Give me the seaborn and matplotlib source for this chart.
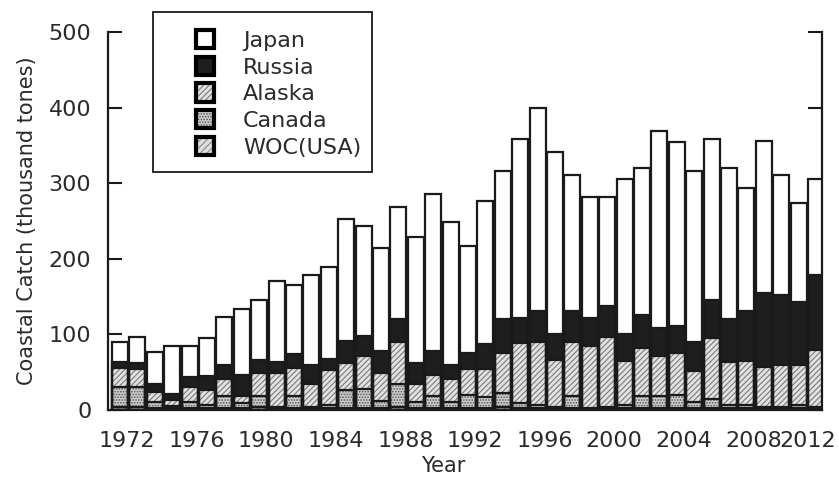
import numpy as np
import pandas as pd
import matplotlib
matplotlib.use("Agg")
import matplotlib.pyplot as plt
import seaborn as sns
from matplotlib.patches import Rectangle
from matplotlib.legend_handler import HandlerBase
from matplotlib.transforms import ScaledTranslation

# ---------------- data (thousand tonnes) ----------------
years = list(range(1972, 2013))
woc = [4, 4, 2, 2, 2, 2, 3, 2, 4, 2, 3, 2, 2, 3, 3, 3, 4, 3, 3, 3, 3,
       3, 4, 3, 3, 2, 3, 1, 2, 2, 3, 3, 3, 3, 3, 2, 2, 2, 2, 2, 2]
canada = [27, 27, 9, 3, 9, 5, 15, 7, 14, 2, 15, 2, 5, 23, 25, 9, 30, 8, 16, 8, 17,
          14, 19, 6, 4, 2, 15, 1, 2, 5, 15, 15, 17, 8, 12, 5, 5, 2, 2, 5, 2]
alaska = [25, 23, 13, 8, 19, 20, 23, 9, 31, 45, 38, 30, 46, 36, 44, 37, 56, 24, 27, 30, 34,
          37, 53, 79, 83, 62, 72, 82, 93, 58, 64, 53, 56, 41, 80, 56, 58, 53, 56, 53, 75]
russia = [7, 8, 10, 8, 13, 18, 19, 28, 17, 15, 18, 26, 15, 29, 26, 29, 31, 27, 32, 19, 22,
          33, 45, 34, 41, 35, 41, 38, 41, 36, 44, 37, 35, 38, 51, 58, 66, 98, 92, 83, 100]
japan = [27, 35, 43, 63, 41, 50, 63, 88, 80, 107, 91, 119, 121, 161, 145, 136, 148, 167, 208, 189, 141,
         190, 195, 236, 268, 240, 180, 160, 144, 204, 194, 261, 243, 226, 212, 199, 162, 201, 159, 131, 127]
label_years = [1972, 1976, 1980, 1984, 1988, 1992, 1996, 2000, 2004, 2008, 2012]
series_names = ["Japan", "Russia", "Alaska", "Canada", "WOC(USA)"]

df = pd.DataFrame({"Year": years, "WOC(USA)": woc, "Canada": canada,
                   "Alaska": alaska, "Russia": russia, "Japan": japan})
stack_order = ["WOC(USA)", "Canada", "Alaska", "Russia", "Japan"]
cum = df[stack_order].cumsum(axis=1)
cum["Year"] = df["Year"]

# ---------------- style ----------------
sns.set_theme(style="white")
plt.rcParams["font.family"] = ["DejaVu Sans"]
plt.rcParams["hatch.linewidth"] = 0.8
txt = "#2a2a2a"
edge = "#1a1a1a"

styles = {
    "Japan":    dict(facecolor="white", hatch=None, hcol="white"),
    "Russia":   dict(facecolor="#1e1e1e", hatch=None, hcol="#1e1e1e"),
    "Alaska":   dict(facecolor="#e2e2e2", hatch="//////", hcol="#7a7a7a"),
    "Canada":   dict(facecolor="#cdcdcd", hatch="......", hcol="#555555"),
    "WOC(USA)": dict(facecolor="#dedede", hatch="/////", hcol="#8a8a8a"),
}

fig = plt.figure(figsize=(8.39, 4.80), dpi=100)
ax = fig.add_axes([108 / 839, 70 / 480, 714 / 839, 378 / 480])

bw = 0.92
# fills: overlay cumulative totals from tallest to shortest
for name in ["Japan", "Russia", "Alaska", "Canada", "WOC(USA)"]:
    st = styles[name]
    kw = dict(facecolor=st["facecolor"], edgecolor=st["hcol"], linewidth=0)
    if st["hatch"]:
        kw["hatch"] = st["hatch"]
    sns.barplot(data=cum, x="Year", y=name, native_scale=True, errorbar=None,
                width=bw, ax=ax, **kw)
# outlines
for name in ["Japan", "Russia", "Alaska", "Canada", "WOC(USA)"]:
    sns.barplot(data=cum, x="Year", y=name, native_scale=True, errorbar=None,
                width=bw, ax=ax, facecolor="none", edgecolor=edge, linewidth=1.6)

ax.set_xlim(1971.31, 2012.34)
ax.set_ylim(0, 500)
ax.set_yticks([0, 100, 200, 300, 400, 500])
ax.set_xticks(years)
ax.set_xticklabels([str(y) if y in label_years else "" for y in years])

for s in ["left", "right", "bottom"]:
    ax.spines[s].set_visible(True)
    ax.spines[s].set_color(edge)
    ax.spines[s].set_linewidth(1.6)
ax.spines["top"].set_visible(False)

ax.tick_params(axis="y", which="both", direction="in", length=10, width=1.5,
               left=True, right=True, labelright=False, color=edge,
               labelsize=16, labelcolor=txt, pad=12)
ax.tick_params(axis="x", direction="in", length=4, width=1.3, bottom=True,
               color=edge, labelsize=16, labelcolor=txt, pad=15)

for lab in ax.get_xticklabels():
    off = -8 / 100 if lab.get_text() == "2012" else 7 / 100
    lab.set_transform(lab.get_transform() + ScaledTranslation(off, 0, fig.dpi_scale_trans))

ax.set_ylabel("Coastal Catch (thousand tones)", fontsize=15, color=txt)
ax.set_xlabel("Year", fontsize=15, color=txt)
ax.yaxis.set_label_coords((37 - 108) / 714, 0.5)
ax.xaxis.set_label_coords((443 - 108) / 714, (410 - 456) / 378)


# legend with square keys (patterned fill + thick black border)
class LegendKey:
    def __init__(self, st):
        self.st = st


class SquareHandler(HandlerBase):
    def create_artists(self, legend, orig_handle, xdescent, ydescent,
                       width, height, fontsize, trans):
        st = orig_handle.st
        side = min(width, height)
        x0 = -xdescent + (width - side) / 2
        y0 = -ydescent + (height - side) / 2
        r1 = Rectangle((x0, y0), side, side, facecolor=st["facecolor"],
                       edgecolor=st["hcol"], linewidth=0, hatch=st["hatch"],
                       transform=trans)
        r2 = Rectangle((x0, y0), side, side, fill=False, edgecolor="black",
                       linewidth=3, transform=trans)
        return [r1, r2]


handles = [LegendKey(styles[n]) for n in series_names]
leg = fig.legend(handles, series_names, loc="upper left",
                 bbox_to_anchor=(195 / 839, 1 - 30 / 480),
                 handler_map={LegendKey: SquareHandler()},
                 frameon=False, fontsize=16, borderpad=0, borderaxespad=0,
                 handlelength=0.9, handleheight=0.9, handletextpad=1.25,
                 labelspacing=0.26)
for t in leg.get_texts():
    t.set_color(txt)
fig.patches.append(Rectangle((153 / 839, 1 - 172 / 480), 219 / 839, 160 / 480,
                             transform=fig.transFigure, fill=False,
                             edgecolor=edge, linewidth=1.3))

fig.savefig("out.png", dpi=100)
